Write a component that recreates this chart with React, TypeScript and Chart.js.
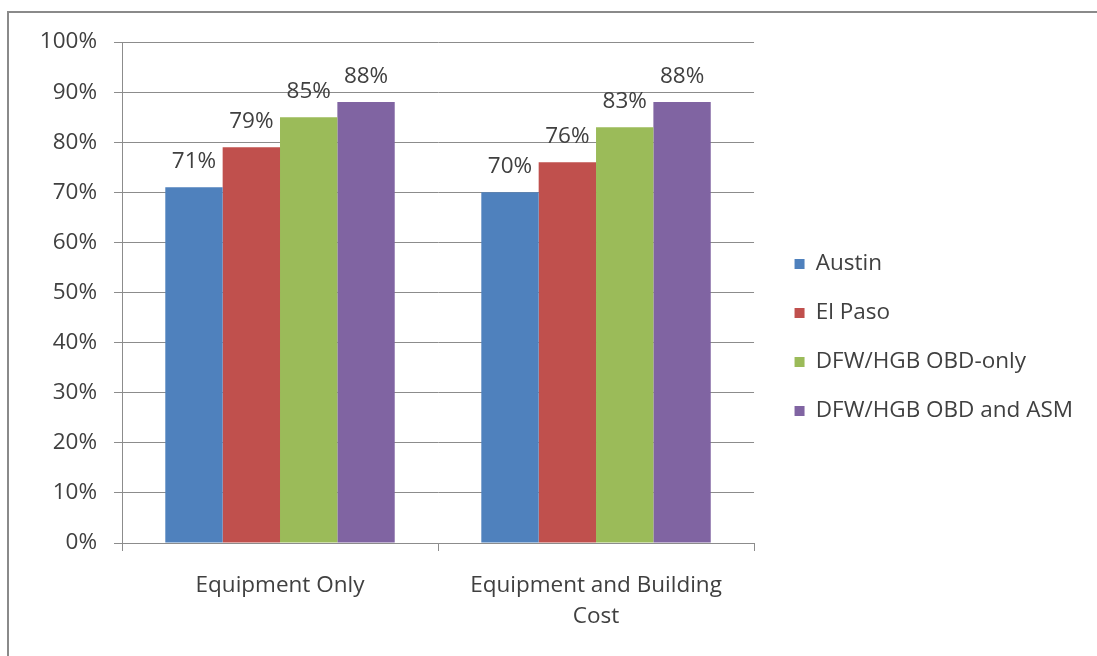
import React, { useEffect, useRef } from "react";
import { Chart, registerables } from "chart.js";

Chart.register(...registerables);

// ---- data ----
const categories: (string | string[])[] = ["Equipment Only", ["Equipment and Building", "Cost"]];
const seriesNames = ["Austin", "El Paso", "DFW/HGB OBD-only", "DFW/HGB OBD and ASM"];
const austin = [71, 70];
const elPaso = [79, 76];
const dfwObdOnly = [85, 83];
const dfwObdAsm = [88, 88];
const seriesColors = ["#4F81BD", "#C0504D", "#9BBB59", "#8064A2"];
const yMin = 0;
const yMax = 100;
const yStep = 10;

const FONT = "'Open Sans', Lato, sans-serif";
const FS = 22.5;
const TEXT = "#404040";
const GRID = "#8c8c8c";

const valueLabels = {
  id: "valueLabels",
  afterDatasetsDraw(chart: any) {
    const ctx = chart.ctx;
    ctx.save();
    ctx.font = `${FS}px ${FONT}`;
    ctx.fillStyle = TEXT;
    ctx.textAlign = "center";
    ctx.textBaseline = "alphabetic";
    chart.data.datasets.forEach((ds: any, i: number) => {
      const meta = chart.getDatasetMeta(i);
      meta.data.forEach((el: any, j: number) => {
        ctx.fillText(`${ds.data[j]}%`, el.x, el.y - 19);
      });
    });
    ctx.restore();
  },
};

const frame = {
  id: "frame",
  beforeDraw(chart: any) {
    const ctx = chart.ctx;
    ctx.save();
    ctx.strokeStyle = "#8a8a8a";
    ctx.lineWidth = 2;
    ctx.beginPath();
    ctx.moveTo(8, chart.height + 5);
    ctx.lineTo(8, 12);
    ctx.lineTo(chart.width + 5, 12);
    ctx.stroke();
    ctx.restore();
  },
};

export default function App() {
  const ref = useRef<HTMLCanvasElement>(null);
  useEffect(() => {
    if (!ref.current) return;
    const data = [austin, elPaso, dfwObdOnly, dfwObdAsm];
    const chart = new Chart(ref.current, {
      type: "bar",
      data: {
        labels: categories,
        datasets: seriesNames.map((name, i) => ({
          label: name,
          data: data[i],
          backgroundColor: seriesColors[i],
          borderWidth: 0,
          categoryPercentage: 0.726,
          barPercentage: 1,
        })),
      },
      options: {
        responsive: false,
        animation: false,
        layout: { padding: { top: 42, bottom: 23, left: 0, right: 14 } },
        plugins: {
          legend: {
            position: "right",
            maxWidth: 600,
            labels: {
              boxWidth: 10,
              boxHeight: 10,
              padding: 26.5,
              color: TEXT,
              font: { family: FONT, size: FS },
            },
          },
          tooltip: { enabled: false },
        },
        scales: {
          x: {
            offset: true,
            grid: {
              display: true,
              drawOnChartArea: false,
              drawTicks: true,
              tickLength: 8,
              color: GRID,
              offset: true,
            },
            border: { display: true, color: GRID, width: 1 },
            ticks: {
              color: TEXT,
              font: { family: FONT, size: FS, lineHeight: 31 / FS },
              padding: 19,
              maxRotation: 0,
              autoSkip: false,
            },
            afterFit: (s: any) => {
              s.height = 656 - 23 - 543;
            },
          },
          y: {
            min: yMin,
            max: yMax,
            grid: { color: GRID, tickLength: 8, drawTicks: true },
            border: { display: true, color: GRID, width: 1 },
            ticks: {
              stepSize: yStep,
              color: TEXT,
              padding: 17,
              font: { family: FONT, size: FS },
              callback: (v: any) => `${v}%`,
            },
            afterFit: (s: any) => {
              s.width = 122;
            },
          },
          y2: {
            position: "right",
            display: true,
            grid: { display: false },
            border: { display: false },
            ticks: { display: false },
            afterFit: (s: any) => {
              s.width = 14;
            },
          },
        },
      },
      plugins: [frame, valueLabels],
    });
    return () => chart.destroy();
  }, []);
  return (
    <div style={{ position: "fixed", left: 0, top: 0, width: 1097, height: 656, background: "#fff" }}>
      <canvas ref={ref} width={1097} height={656} />
    </div>
  );
}
